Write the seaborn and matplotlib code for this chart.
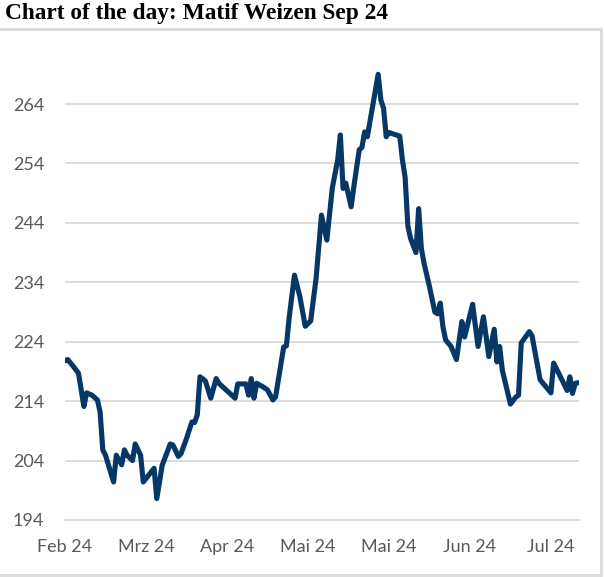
import matplotlib
matplotlib.use("Agg")
import matplotlib.pyplot as plt
from matplotlib.lines import Line2D
import pandas as pd
import seaborn as sns

# Matif Weizen Sep 24 (Schlusskurse)
dates = [
    "2024-02-01", "2024-02-02", "2024-02-04", "2024-02-06", "2024-02-08", "2024-02-09",
    "2024-02-11", "2024-02-13", "2024-02-14", "2024-02-15", "2024-02-16", "2024-02-19",
    "2024-02-20", "2024-02-22", "2024-02-23", "2024-02-24", "2024-02-26", "2024-02-27",
    "2024-02-29", "2024-03-01", "2024-03-05", "2024-03-06", "2024-03-08", "2024-03-11",
    "2024-03-12", "2024-03-14", "2024-03-15", "2024-03-17", "2024-03-19", "2024-03-20",
    "2024-03-21", "2024-03-22", "2024-03-24", "2024-03-26", "2024-03-28", "2024-03-29",
    "2024-04-04", "2024-04-05", "2024-04-08", "2024-04-09", "2024-04-10", "2024-04-11",
    "2024-04-12", "2024-04-14", "2024-04-16", "2024-04-18", "2024-04-19", "2024-04-22",
    "2024-04-23", "2024-04-24", "2024-04-26", "2024-04-28", "2024-04-30", "2024-05-02",
    "2024-05-04", "2024-05-06", "2024-05-08", "2024-05-10", "2024-05-12", "2024-05-13",
    "2024-05-14", "2024-05-15", "2024-05-17", "2024-05-18", "2024-05-20", "2024-05-21",
    "2024-05-22", "2024-05-23", "2024-05-27", "2024-05-28", "2024-05-29", "2024-05-30",
    "2024-05-31", "2024-06-04", "2024-06-05", "2024-06-06", "2024-06-07", "2024-06-08",
    "2024-06-10", "2024-06-11", "2024-06-12", "2024-06-13", "2024-06-15", "2024-06-17",
    "2024-06-18", "2024-06-19", "2024-06-20", "2024-06-21", "2024-06-23", "2024-06-25",
    "2024-06-27", "2024-06-28", "2024-07-01", "2024-07-03", "2024-07-05", "2024-07-07",
    "2024-07-09", "2024-07-10", "2024-07-11", "2024-07-12", "2024-07-15", "2024-07-17",
    "2024-07-18", "2024-07-19", "2024-07-22", "2024-07-23", "2024-07-26", "2024-07-30",
    "2024-07-31", "2024-08-01", "2024-08-05", "2024-08-06", "2024-08-07", "2024-08-08",
    "2024-08-09",
]
prices = [
    220.8, 221.0, 219.9, 218.7, 213.1, 215.4,
    215.0, 214.2, 212.2, 205.8, 204.9, 200.4,
    204.9, 203.3, 205.8, 204.9, 204.0, 206.8,
    204.9, 200.4, 202.7, 197.6, 203.2, 206.8,
    206.6, 204.7, 205.2, 207.7, 210.5, 210.4,
    211.7, 218.1, 217.4, 214.5, 217.8, 217.0,
    214.5, 216.9, 216.9, 215.0, 217.8, 214.5,
    217.0, 216.5, 215.9, 214.2, 214.7, 223.1,
    223.3, 227.9, 235.2, 231.6, 226.6, 227.5,
    234.6, 245.3, 241.1, 249.8, 254.6, 258.8,
    249.8, 250.7, 246.7, 250.1, 256.3, 256.7,
    259.3, 258.5, 269.0, 264.7, 263.3, 258.5,
    259.2, 258.6, 254.6, 251.6, 243.5, 241.4,
    239.0, 246.4, 239.7, 237.2, 233.3, 229.0,
    228.7, 230.5, 226.5, 224.3, 223.2, 221.0,
    227.4, 224.8, 230.3, 223.2, 228.2, 221.5,
    226.1, 220.6, 223.2, 219.2, 213.5, 214.7,
    215.0, 223.8, 225.7, 225.0, 217.6, 215.4,
    220.4, 219.5, 215.8, 218.1, 215.3, 217.0,
    217.1,
]

y_ticks = [194, 204, 214, 224, 234, 244, 254, 264]
x_tick_labels = ["Feb 24", "Mrz 24", "Apr 24", "Mai 24", "Mai 24", "Jun 24", "Jul 24"]

LINE_COLOR = "#063767"
GRID_COLOR = "#d9d9d9"
TEXT_COLOR = "#595959"

sns.set_style("white")
plt.rcParams["font.family"] = ["Lato", "DejaVu Sans"]

df = pd.DataFrame({"datum": pd.to_datetime(dates), "preis": prices})

fig = plt.figure(figsize=(6.04, 5.77), dpi=100)
ax = fig.add_axes([65 / 604, 1 - 520 / 577, (579 - 65) / 604, (520 - 44.6) / 577])

sns.lineplot(
    data=df, x="datum", y="preis", ax=ax, color=LINE_COLOR, linewidth=3.7,
    solid_joinstyle="round", solid_capstyle="round",
)

# Datumsachse mit Hauptintervall 30 Tage (wie im Original)
start = pd.Timestamp("2024-02-01")
ticks = [start + pd.Timedelta(days=30 * i) for i in range(len(x_tick_labels))]
ax.set_xlim(start, start + pd.Timedelta(days=190.4))
ax.set_xticks(ticks)
ax.set_xticklabels(x_tick_labels)

ax.set_ylim(194, 274)
ax.set_yticks(y_ticks)
ax.yaxis.grid(True, color=GRID_COLOR, linewidth=1.3)
ax.xaxis.grid(False)

for side in ["top", "right", "left"]:
    ax.spines[side].set_visible(False)
ax.spines["bottom"].set_color(GRID_COLOR)
ax.spines["bottom"].set_linewidth(1.3)

ax.tick_params(axis="y", length=0, pad=15, labelsize=13, labelcolor=TEXT_COLOR)
ax.tick_params(axis="x", length=5, width=1.3, color=GRID_COLOR, pad=9,
               labelsize=13, labelcolor=TEXT_COLOR)
ax.set_xlabel("")
ax.set_ylabel("")

# Titel und Rahmen
fig.text(5 / 604, 1 - 14 / 577, "Chart of the day: Matif Weizen Sep 24",
         family=["Liberation Serif", "DejaVu Serif"], fontweight="bold",
         fontsize=16.8, color="black", va="center", ha="left")
frame_kw = dict(color=GRID_COLOR, linewidth=2, transform=fig.transFigure)
fig.add_artist(Line2D([0, 601 / 604], [1 - 29 / 577] * 2, **frame_kw))
fig.add_artist(Line2D([601 / 604] * 2, [1 - 29 / 577, 1 - 575 / 577], **frame_kw))
fig.add_artist(Line2D([0, 601 / 604], [1 - 575 / 577] * 2, **frame_kw))

fig.savefig("out.png", dpi=100)
plt.close(fig)
